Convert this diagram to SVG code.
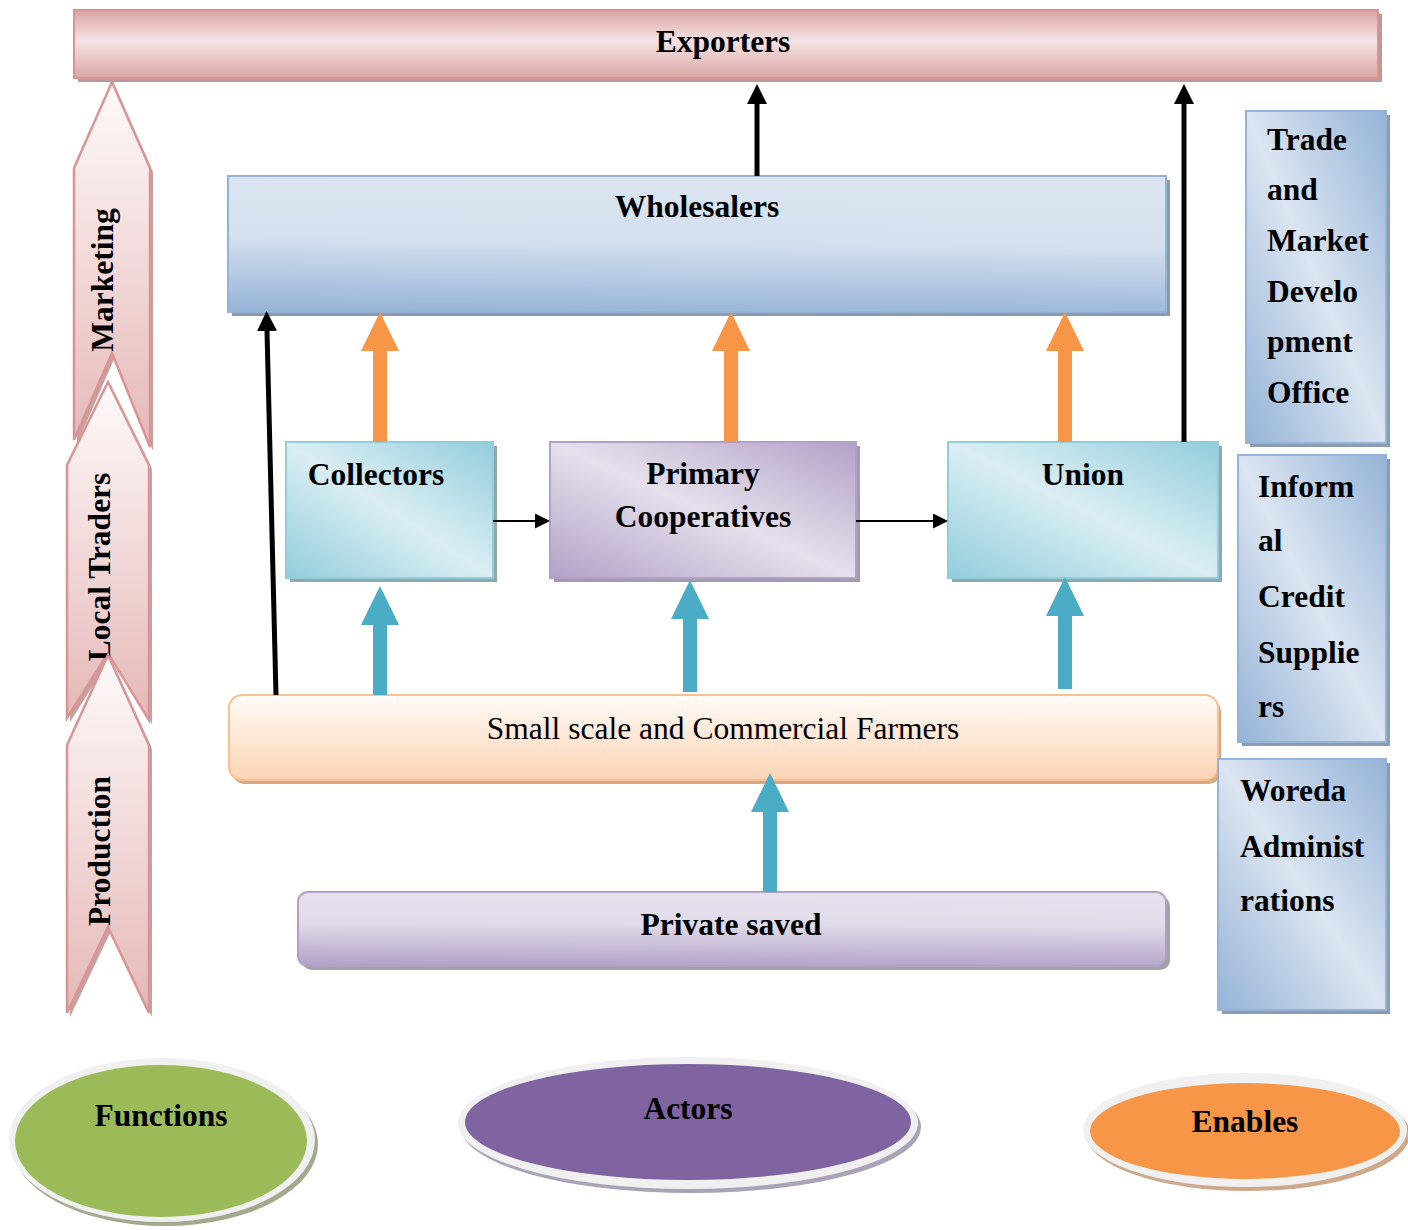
<svg xmlns="http://www.w3.org/2000/svg" width="1408" height="1230" viewBox="0 0 1408 1230">
  <defs>
    <style>
      text { font-family: "Liberation Serif", "Times New Roman", serif; font-size: 31.5px; fill: #000; }
      .b { font-weight: bold; }
      .c { text-anchor: middle; }
      .blueBox { fill: url(#gBlue); stroke: #95b3d7; stroke-width: 2; }
      .blueShadow { fill: #8a9bb2; }
      .teal { fill: url(#gTeal); stroke: #92cddc; stroke-width: 2; }
      .tealShadow { fill: #8ea8ae; }
      .chev { fill: url(#gChev); stroke: #d99594; stroke-width: 2.5; stroke-linejoin: miter; }
      .chevShadow { fill: #c9a0a0; }
      .orange { fill: #f79646; }
      .tealArrow { fill: #4bacc6; }
      .thick { stroke: #000; stroke-width: 5; fill: none; }
      .thin { stroke: #000; stroke-width: 2; fill: none; }
    </style>
    <linearGradient id="gExp" x1="0" y1="0" x2="0" y2="1">
      <stop offset="0" stop-color="#dca2a2"/>
      <stop offset="0.45" stop-color="#f4e3e3"/>
      <stop offset="1" stop-color="#dda5a5"/>
    </linearGradient>
    <linearGradient id="gWhole" x1="0" y1="1" x2="0.08" y2="0">
      <stop offset="0" stop-color="#95b3d7"/>
      <stop offset="0.55" stop-color="#d4e0ee"/>
      <stop offset="1" stop-color="#dbe5f1"/>
    </linearGradient>
    <linearGradient id="gBlue" x1="0" y1="1" x2="1" y2="0">
      <stop offset="0" stop-color="#95b3d7"/>
      <stop offset="0.5" stop-color="#dbe5f1"/>
      <stop offset="1" stop-color="#95b3d7"/>
    </linearGradient>
    <linearGradient id="gTeal" x1="0" y1="1" x2="1" y2="0">
      <stop offset="0" stop-color="#92cddc"/>
      <stop offset="0.5" stop-color="#dbeef3"/>
      <stop offset="1" stop-color="#92cddc"/>
    </linearGradient>
    <linearGradient id="gPurple" x1="0" y1="1" x2="1" y2="0">
      <stop offset="0" stop-color="#b2a1c7"/>
      <stop offset="0.5" stop-color="#e5e0ec"/>
      <stop offset="1" stop-color="#b2a1c7"/>
    </linearGradient>
    <linearGradient id="gPriv" x1="0" y1="1" x2="0.05" y2="0">
      <stop offset="0" stop-color="#b2a1c7"/>
      <stop offset="0.6" stop-color="#e2dcea"/>
      <stop offset="1" stop-color="#e5e0ec"/>
    </linearGradient>
    <linearGradient id="gFarm" x1="0" y1="0" x2="0" y2="1">
      <stop offset="0" stop-color="#fffbf7"/>
      <stop offset="1" stop-color="#fbd4b4"/>
    </linearGradient>
    <linearGradient id="gChev" x1="0" y1="0" x2="0" y2="1">
      <stop offset="0" stop-color="#fefafa"/>
      <stop offset="1" stop-color="#e5b8b7"/>
    </linearGradient>
    <marker id="head" viewBox="0 0 10 10" refX="0" refY="5" markerUnits="userSpaceOnUse" markerWidth="20" markerHeight="20" orient="auto">
      <path d="M0,0 L10,5 L0,10 z" fill="#000"/>
    </marker>
    <marker id="headSmall" viewBox="0 0 10 10" refX="0" refY="5" markerUnits="userSpaceOnUse" markerWidth="15" markerHeight="15" orient="auto">
      <path d="M0,0 L10,5 L0,10 z" fill="#000"/>
    </marker>
  </defs>

  <rect width="1408" height="1230" fill="#ffffff"/>

  <!-- Function chevrons on the left -->
  <g id="marketing">
    <polygon class="chevShadow" points="115,86 153,172 153,451 115,357 77,444 77,172"/>
    <polygon class="chev" points="112,82 150,168 150,447 112,353 74,440 74,168"/>
    <text class="b c" transform="translate(113,280) rotate(-90)">Marketing</text>
  </g>
  <g id="local-traders">
    <polygon class="chevShadow" points="111,386 152,469 152,724 111,657 70,722 70,469"/>
    <polygon class="chev" points="108,382 149,465 149,720 108,653 67,718 67,465"/>
    <text class="b c" transform="translate(110,567) rotate(-90)">Local Traders</text>
  </g>
  <g id="production">
    <polygon class="chevShadow" points="111,659 152,749 152,1017 111,931 70,1017 70,749"/>
    <polygon class="chev" points="108,655 149,745 149,1013 108,927 67,1013 67,745"/>
    <text class="b c" transform="translate(110,851) rotate(-90)">Production</text>
  </g>

  <!-- Exporters bar -->
  <g id="exporters">
    <rect x="78" y="14" width="1304" height="68" fill="#b99a9a"/>
    <rect x="74" y="10" width="1304" height="68" fill="url(#gExp)" stroke="#d99594" stroke-width="2"/>
    <text class="b c" x="723" y="52">Exporters</text>
  </g>

  <!-- Wholesalers -->
  <g id="wholesalers">
    <rect x="232" y="180" width="938" height="136" class="blueShadow"/>
    <rect x="228" y="176" width="938" height="136" fill="url(#gWhole)" stroke="#95b3d7" stroke-width="2"/>
    <text class="b c" x="697" y="217">Wholesalers</text>
  </g>

  <!-- Collectors -->
  <g id="collectors">
    <rect x="290" y="446" width="207" height="136" class="tealShadow"/>
    <rect x="286" y="442" width="207" height="136" class="teal"/>
    <text class="b c" x="376" y="485">Collectors</text>
  </g>

  <!-- Primary Cooperatives -->
  <g id="primary-cooperatives">
    <rect x="554" y="446" width="306" height="136" fill="#a39ab0"/>
    <rect x="550" y="442" width="306" height="136" fill="url(#gPurple)" stroke="#b2a1c7" stroke-width="2"/>
    <text class="b c" x="703" y="484">Primary</text>
    <text class="b c" x="703" y="527">Cooperatives</text>
  </g>

  <!-- Union -->
  <g id="union">
    <rect x="952" y="446" width="270" height="136" class="tealShadow"/>
    <rect x="948" y="442" width="270" height="136" class="teal"/>
    <text class="b c" x="1083" y="485">Union</text>
  </g>

  <!-- Small scale and Commercial Farmers -->
  <g id="farmers">
    <rect x="232" y="699" width="989" height="85" rx="13" fill="#d7a883"/>
    <rect x="229" y="695" width="989" height="85" rx="13" fill="url(#gFarm)" stroke="#fac090" stroke-width="2"/>
    <text class="c" x="723" y="739">Small scale and Commercial Farmers</text>
  </g>

  <!-- Private saved -->
  <g id="private-saved">
    <rect x="302" y="896" width="868" height="74" rx="10" fill="#a29eaa"/>
    <rect x="298" y="892" width="868" height="74" rx="10" fill="url(#gPriv)" stroke="#b2a1c7" stroke-width="2"/>
    <text class="b c" x="731" y="935">Private saved</text>
  </g>

  <!-- Enabling institutions on the right -->
  <g id="trade-market-office">
    <rect x="1250" y="115" width="140" height="332" class="blueShadow"/>
    <rect x="1246" y="111" width="140" height="332" class="blueBox"/>
    <text class="b" x="1267" y="150">Trade</text>
    <text class="b" x="1267" y="200">and</text>
    <text class="b" x="1267" y="251">Market</text>
    <text class="b" x="1267" y="302">Develo</text>
    <text class="b" x="1267" y="352">pment</text>
    <text class="b" x="1267" y="403">Office</text>
  </g>
  <g id="informal-credit">
    <rect x="1242" y="459" width="148" height="287" class="blueShadow"/>
    <rect x="1238" y="455" width="148" height="287" class="blueBox"/>
    <text class="b" x="1258" y="497">Inform</text>
    <text class="b" x="1258" y="551">al</text>
    <text class="b" x="1258" y="607">Credit</text>
    <text class="b" x="1258" y="663">Supplie</text>
    <text class="b" x="1258" y="717">rs</text>
  </g>
  <g id="woreda">
    <rect x="1222" y="763" width="168" height="251" class="blueShadow"/>
    <rect x="1218" y="759" width="168" height="251" class="blueBox"/>
    <text class="b" x="1240" y="801">Woreda</text>
    <text class="b" x="1240" y="857">Administ</text>
    <text class="b" x="1240" y="911">rations</text>
  </g>

  <!-- Legend ellipses -->
  <g id="functions">
    <ellipse cx="165" cy="1144" rx="153" ry="82" fill="#a3a98e"/>
    <ellipse cx="162" cy="1140" rx="153" ry="82" fill="#f0f0f0"/>
    <ellipse cx="161" cy="1141" rx="146" ry="76" fill="#9bbb59"/>
    <text class="b c" x="161" y="1126">Functions</text>
  </g>
  <g id="actors">
    <ellipse cx="691" cy="1127" rx="230" ry="66" fill="#aaa2b6"/>
    <ellipse cx="688" cy="1123" rx="230" ry="66" fill="#f0f0f0"/>
    <ellipse cx="688" cy="1122" rx="223" ry="58" fill="#8064a2"/>
    <text class="b c" x="688" y="1119">Actors</text>
  </g>
  <g id="enables">
    <ellipse cx="1248" cy="1134" rx="162" ry="57" fill="#cfa88c"/>
    <ellipse cx="1245" cy="1130" rx="162" ry="57" fill="#f0f0f0"/>
    <ellipse cx="1245" cy="1131" rx="155" ry="48" fill="#f79646"/>
    <text class="b c" x="1245" y="1132">Enables</text>
  </g>

  <!-- Connectors -->
  <g id="connectors">
    <!-- black flow lines -->
    <line class="thick" x1="757" y1="176" x2="757" y2="104" marker-end="url(#head)"/>
    <line class="thick" x1="1184" y1="442" x2="1184" y2="104" marker-end="url(#head)"/>
    <line class="thick" x1="276" y1="695" x2="267" y2="331" marker-end="url(#head)"/>
    <line class="thin" x1="493" y1="521" x2="535" y2="521" marker-end="url(#headSmall)"/>
    <line class="thin" x1="856" y1="521" x2="933" y2="521" marker-end="url(#headSmall)"/>

    <!-- orange block arrows into Wholesalers -->
    <path class="orange" d="M373,442 V351 H361 L380,312 L399,351 H387 V442 Z"/>
    <path class="orange" d="M724,442 V351 H712 L731,312 L750,351 H738 V442 Z"/>
    <path class="orange" d="M1058,442 V351 H1046 L1065,312 L1084,351 H1072 V442 Z"/>

    <!-- teal block arrows -->
    <path class="tealArrow" d="M373,695 V625 H361 L380,586 L399,625 H387 V695 Z"/>
    <path class="tealArrow" d="M683,692 V619 H671 L690,580 L709,619 H697 V692 Z"/>
    <path class="tealArrow" d="M1058,689 V616 H1046 L1065,577 L1084,616 H1072 V689 Z"/>
    <path class="tealArrow" d="M763,892 V812 H751 L770,773 L789,812 H777 V892 Z"/>
  </g>
</svg>
